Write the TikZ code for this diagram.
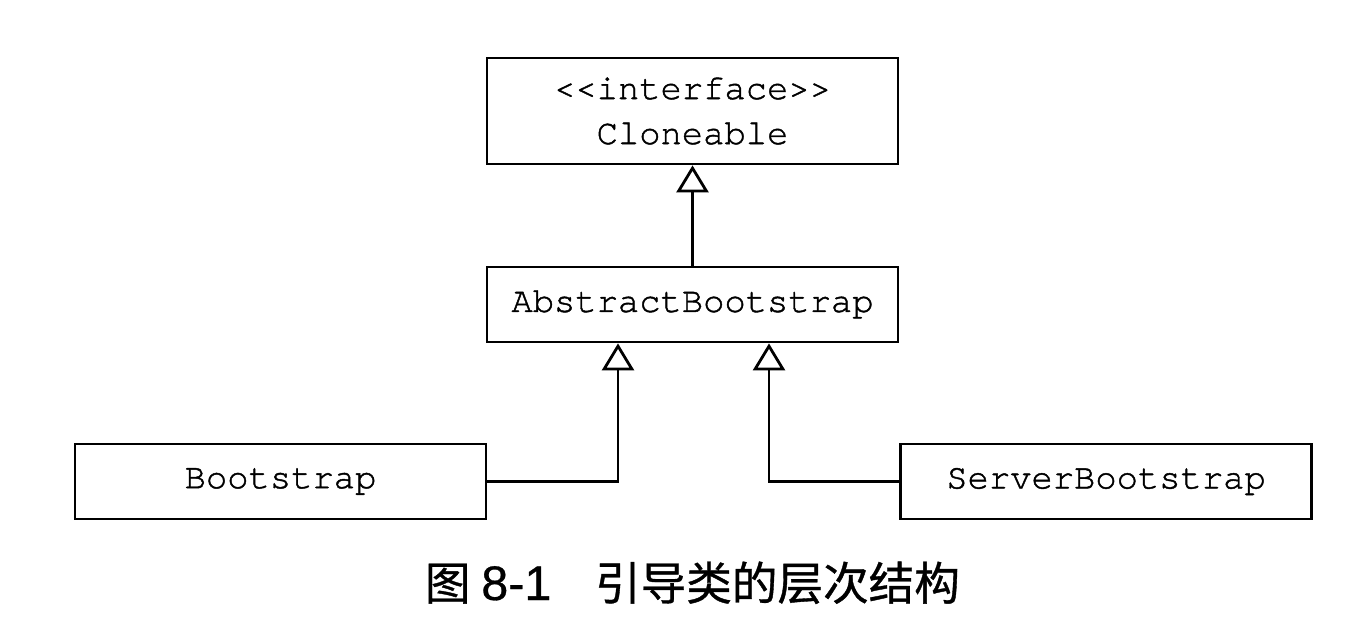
\documentclass[tikz,border=0pt]{standalone}
\usepackage{fontspec}
\setmonofont[FakeBold=1.2]{TeX Gyre Cursor}
\setsansfont[FakeBold=0.6]{Liberation Sans}
\newfontfamily\cjk[FakeBold=0.8]{Noto Sans CJK SC}
\usetikzlibrary{arrows.meta}
\begin{document}
\begin{tikzpicture}[x=1pt,y=-1pt,
  cls/.style={draw, line width=2.8pt, inner sep=0pt, minimum width=411pt,
    align=center, font=\fontsize{35.5}{45}\selectfont\ttfamily},
  inh/.style={line width=2.8pt, -{Triangle[open, length=27pt, width=32pt, line width=2.8pt]}}]
\useasboundingbox (0,0) rectangle (1356,636);
\node[cls, minimum height=106pt] (cl) at (692.5,111) {<{}<interface>{}>\\Cloneable};
\node[cls, minimum height=75pt] (ab) at (692.5,304.5) {AbstractBootstrap};
\node[cls, minimum height=75pt] (bs) at (280.5,481.5) {Bootstrap};
\node[cls, minimum height=75pt] (sb) at (1106,481.5) {ServerBootstrap};
\draw[inh] (ab.north) -- (cl.south);
\draw[inh] (bs.east) -| ([xshift=-74.5pt]ab.south);
\draw[inh] (sb.west) -| ([xshift=76.5pt]ab.south);
\node[inner sep=0pt, anchor=base west] (cap) at (424.75,600)
  {{\cjk\fontsize{45.6}{50}\selectfont 图}\hspace{10.75pt}{\sffamily\fontsize{48.5}{50}\selectfont 8-1}\hspace{43.7pt}{\cjk\fontsize{45.6}{50}\selectfont 引导类的层次结构}};
\end{tikzpicture}
\end{document}
